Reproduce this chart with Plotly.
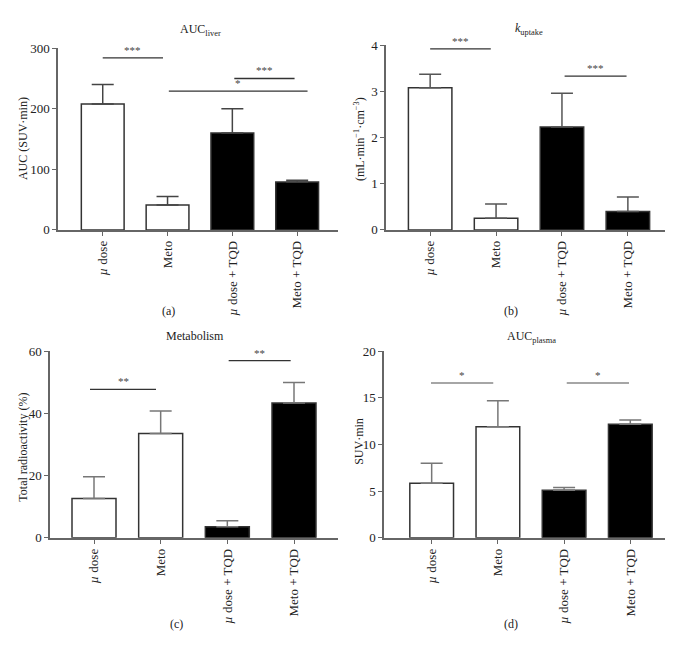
import plotly.graph_objects as go

W, H = 673, 645
FONT = "Liberation Serif"

categories = ["<i>µ</i> dose", "Meto", "<i>µ</i> dose + TQD", "Meto + TQD"]
bar_colors = ["white", "white", "black", "black"]

# panel data
auc_liver = [208, 41, 160, 79]
auc_liver_err = [240, 55, 200, 82]
k_uptake = [3.08, 0.25, 2.23, 0.40]
k_uptake_err = [3.37, 0.56, 2.96, 0.71]
metabolism = [12.6, 33.5, 3.6, 43.3]
metabolism_err = [19.6, 40.7, 5.5, 49.9]
auc_plasma = [5.86, 11.9, 5.09, 12.18]
auc_plasma_err = [7.99, 14.7, 5.4, 12.63]

# significance brackets: (x start, x end, height, label)
sig_a = [(0.0, 0.93, 284, "***"), (1.02, 3.16, 229, "*"), (2.03, 2.96, 250, "***")]
sig_b = [(0.0, 0.92, 3.92, "***"), (2.04, 2.98, 3.33, "***")]
sig_c = [(-0.06, 0.93, 47.7, "**"), (2.02, 2.95, 56.9, "**")]
sig_d = [(-0.01, 0.93, 16.6, "*"), (2.04, 2.98, 16.6, "*")]

panels = [
    dict(vals=auc_liver, err=auc_liver_err, sig=sig_a, ymax=300, dtick=100,
         px=(50, 330), py=(220, 34), xr=(-0.69, 3.63),
         title="AUC<sub>liver</sub>", tpos=(192, 15),
         ytitle="AUC (SUV·min)", ypos=(15, 127), label="(a)", lpos=(160, 303),
         sigcolor="#333", errcolor="#444"),
    dict(vals=k_uptake, err=k_uptake_err, sig=sig_b, ymax=4, dtick=1,
         px=(378, 666), py=(220, 31), xr=(-0.67, 3.7),
         title="<i>k</i><sub>uptake</sub>", tpos=(521, 14),
         ytitle="(mL·min<sup>−1</sup>·cm<sup>−3</sup>)", ypos=(351, 127), label="(b)", lpos=(503, 303),
         sigcolor="#333", errcolor="#555"),
    dict(vals=metabolism, err=metabolism_err, sig=sig_c, ymax=60, dtick=20,
         px=(42, 330), py=(535.3, 344), xr=(-0.66, 3.66),
         title="Metabolism", tpos=(187, 329),
         ytitle="Total radioactivity (%)", ypos=(15, 443), label="(c)", lpos=(168, 624),
         sigcolor="#333", errcolor="#777"),
    dict(vals=auc_plasma, err=auc_plasma_err, sig=sig_d, ymax=20, dtick=5,
         px=(376, 666), py=(535.3, 344.3), xr=(-0.72, 3.66),
         title="AUC<sub>plasma</sub>", tpos=(523, 330),
         ytitle="SUV·min", ypos=(351, 437), label="(d)", lpos=(503, 624),
         sigcolor="#888", errcolor="#777"),
]

fig = go.Figure()
layout = dict(width=W, height=H, margin=dict(l=0, r=0, t=0, b=0), autosize=False,
              plot_bgcolor="white", paper_bgcolor="white", showlegend=False,
              font=dict(family=FONT, size=12, color="#222"))
annotations = []
shapes = []

for i, p in enumerate(panels):
    n = "" if i == 0 else str(i + 1)
    xa, ya = "x" + n, "y" + n
    fig.add_trace(go.Bar(
        x=list(range(4)), y=p["vals"], width=0.66,
        marker=dict(color=bar_colors, line=dict(color="#333", width=1.5)),
        error_y=dict(type="data", symmetric=False,
                     array=[e - v for e, v in zip(p["err"], p["vals"])],
                     arrayminus=[0] * 4, color=p["errcolor"], thickness=1.5, width=11),
        xaxis=xa, yaxis=ya))
    layout["xaxis" + n] = dict(
        domain=[p["px"][0] / W, p["px"][1] / W], anchor=ya, range=list(p["xr"]),
        tickmode="array", tickvals=list(range(4)), ticktext=categories, tickangle=-90,
        showline=True, linecolor="#666", linewidth=1.5, ticks="outside", ticklen=4,
        tickcolor="#666", showgrid=False, zeroline=False,
        tickfont=dict(family=FONT, size=13, color="#222"))
    layout["yaxis" + n] = dict(
        domain=[1 - p["py"][0] / H, 1 - p["py"][1] / H], anchor=xa,
        range=[0, p["ymax"]], dtick=p["dtick"], showline=True, linecolor="#666",
        linewidth=1.5, ticks="outside", ticklen=4, tickcolor="#666",
        showgrid=False, zeroline=False, tickfont=dict(family=FONT, size=13, color="#222"))
    for (x0, x1, h, lab) in p["sig"]:
        shapes.append(dict(type="line", xref=xa, yref=ya, x0=x0, x1=x1, y0=h, y1=h,
                           line=dict(color=p["sigcolor"], width=1.3)))
        annotations.append(dict(xref=xa, yref=ya, x=(x0 + x1) / 2, y=h, text=lab,
                                showarrow=False, yanchor="bottom", yshift=0,
                                font=dict(family=FONT, size=11, color="#444")))
    annotations.append(dict(xref="paper", yref="paper", x=p["tpos"][0] / W,
                            y=1 - p["tpos"][1] / H, text=p["title"], showarrow=False,
                            xanchor="center", yanchor="middle",
                            font=dict(family=FONT, size=12, color="#222")))
    annotations.append(dict(xref="paper", yref="paper", x=p["ypos"][0] / W,
                            y=1 - p["ypos"][1] / H, text=p["ytitle"], showarrow=False,
                            textangle=-90, xanchor="center", yanchor="middle",
                            font=dict(family=FONT, size=12, color="#222")))
    annotations.append(dict(xref="paper", yref="paper", x=p["lpos"][0] / W,
                            y=1 - p["lpos"][1] / H, text=p["label"], showarrow=False,
                            xanchor="center", yanchor="middle",
                            font=dict(family=FONT, size=12, color="#222")))

layout["annotations"] = annotations
layout["shapes"] = shapes
fig.update_layout(**layout)
fig.write_html("out.html")
